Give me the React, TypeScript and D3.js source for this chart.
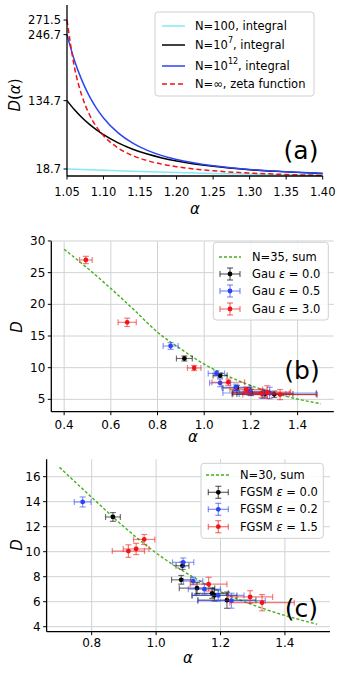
import React from 'react';
import * as d3 from 'd3';

const FONT = 'DejaVu Sans, Verdana, sans-serif';

// ---- panel (a) ----
const A_ALPHA = [1.05, 1.06, 1.07, 1.08, 1.09, 1.10, 1.12, 1.14, 1.16, 1.18, 1.20, 1.25, 1.30, 1.35, 1.40];
const A_N7 = [134.7, 119.5, 106.4, 95.2, 85.4, 76.9, 63.0, 52.3, 44.0, 37.5, 32.3, 23.2, 17.5, 13.8, 11.2];
const A_N12 = [246.7, 203.8, 170.3, 143.7, 122.5, 105.3, 80.0, 62.6, 50.3, 41.4, 34.7, 24.0, 17.8, 13.9, 11.25];
const A_ZETA = [271.5, 192.5, 144.4, 112.8, 91.0, 75.2, 54.3, 41.4, 32.9, 26.9, 22.6, 15.7, 11.8, 9.4, 7.7];
const A_N100_ALPHA = [1.05, 1.10, 1.15, 1.20, 1.25, 1.30, 1.35, 1.40];
const A_N100 = [18.7, 16.4, 14.4, 12.7, 11.2, 10.0, 8.9, 8.0];
const A_XTICKS = [1.05, 1.10, 1.15, 1.20, 1.25, 1.30, 1.35, 1.40];
const A_YTICKS = [18.7, 134.7, 246.7, 271.5];

// ---- panel (b) ----
const B_LINE_ALPHA = [0.4, 0.5, 0.6, 0.7, 0.8, 0.9, 1.0, 1.1, 1.2, 1.3, 1.4, 1.5];
const B_LINE_D = [28.7, 25.7, 22.5, 19.1, 15.6, 12.95, 10.55, 8.7, 7.17, 5.97, 5.04, 4.31];
const B_G0_ALPHA = [0.915, 1.068, 1.14, 1.2, 1.26, 1.3];
const B_G0_D = [11.45, 8.75, 6.8, 6.1, 5.85, 5.8];
const B_G0_XERR = [0.034, 0.03, 0.06, 0.08, 0.12, 0.18];
const B_G0_YERR = [0.4, 0.35, 0.4, 0.5, 0.5, 0.5];
const B_G05_ALPHA = [0.856, 1.052, 1.068, 1.135, 1.195, 1.25, 1.28];
const B_G05_D = [13.42, 9.1, 7.6, 6.9, 6.25, 5.85, 6.0];
const B_G05_XERR = [0.032, 0.035, 0.045, 0.06, 0.07, 0.1, 0.2];
const B_G05_YERR = [0.53, 0.4, 0.6, 0.5, 0.6, 0.7, 0.9];
const B_G3_ALPHA = [0.493, 0.67, 0.957, 1.103, 1.18, 1.245, 1.27, 1.325];
const B_G3_D = [27.0, 17.16, 9.95, 7.7, 6.55, 5.95, 6.15, 5.75];
const B_G3_XERR = [0.027, 0.039, 0.029, 0.07, 0.07, 0.12, 0.1, 0.16];
const B_G3_YERR = [0.58, 0.66, 0.4, 0.5, 0.4, 0.7, 1.0, 0.8];
const B_XTICKS = [0.4, 0.6, 0.8, 1.0, 1.2, 1.4];
const B_YTICKS = [5, 10, 15, 20, 25, 30];

// ---- panel (c) ----
const C_LINE_ALPHA = [0.7, 0.8, 0.9, 1.0, 1.1, 1.2, 1.3, 1.4, 1.5];
const C_LINE_D = [16.75, 14.35, 12.0, 9.9, 8.2, 6.8, 5.75, 4.9, 4.2];
const C_F0_ALPHA = [0.866, 1.082, 1.078, 1.127, 1.174, 1.181, 1.22];
const C_F0_D = [12.78, 8.88, 7.75, 7.08, 6.67, 6.5, 6.12];
const C_F0_XERR = [0.023, 0.02, 0.03, 0.055, 0.05, 0.07, 0.09];
const C_F0_YERR = [0.35, 0.3, 0.35, 0.45, 0.4, 0.45, 0.65];
const C_F02_ALPHA = [0.772, 1.084, 1.115, 1.15, 1.193, 1.234];
const C_F02_D = [13.98, 9.15, 7.65, 7.0, 6.5, 6.08];
const C_F02_XERR = [0.026, 0.033, 0.03, 0.05, 0.08, 0.105];
const C_F02_YERR = [0.4, 0.35, 0.3, 0.4, 0.45, 0.6];
const C_F15_ALPHA = [0.914, 0.938, 0.963, 1.163, 1.292, 1.329];
const C_F15_D = [10.05, 10.22, 10.98, 7.4, 6.38, 5.92];
const C_F15_XERR = [0.05, 0.04, 0.033, 0.057, 0.07, 0.1];
const C_F15_YERR = [0.5, 0.45, 0.4, 0.55, 0.5, 0.65];
const C_XTICKS = [0.8, 1.0, 1.2, 1.4];
const C_YTICKS = [4, 6, 8, 10, 12, 14, 16];

const BLACK = '#000000';
const BLUE = '#2b45f5';
const RED = '#f01414';
const GREEN = '#45b01a';
const CYAN = '#86e8f6';

type Scale = d3.ScaleLinear<number, number>;

function Axes({ x, y, xticks, yticks, xfmt, yfmt, grid, xlabOff, font }: any) {
  const [x0, x1] = x.range();
  const [y0, y1] = y.range();
  return (
    <g fontFamily={FONT} fontSize={font}>
      {grid && (
        <g stroke="#cfd3d4" strokeWidth={1}>
          {xticks.map((t: number) => <line key={'gx' + t} x1={x(t)} x2={x(t)} y1={y0} y2={y1} />)}
          {yticks.map((t: number) => <line key={'gy' + t} x1={x0} x2={x1} y1={y(t)} y2={y(t)} />)}
        </g>
      )}
      {xticks.map((t: number) => (
        <g key={'xt' + t}>
          <line x1={x(t)} x2={x(t)} y1={y0} y2={y0 + 3.5} stroke="#000" />
          <text x={x(t)} y={y0 + xlabOff} textAnchor="middle">{xfmt(t)}</text>
        </g>
      ))}
      {yticks.map((t: number) => (
        <g key={'yt' + t}>
          <line x1={x0 - 3.5} x2={x0} y1={y(t)} y2={y(t)} stroke="#000" />
          <text x={x0 - 6} y={y(t)} textAnchor="end" dominantBaseline="central">{yfmt(t)}</text>
        </g>
      ))}
      <line x1={x0} x2={x0} y1={y0} y2={y1} stroke="#000" strokeWidth={1.3} />
      <line x1={x0} x2={x1} y1={y0} y2={y0} stroke="#000" strokeWidth={1.3} />
    </g>
  );
}

function ErrPoints({ xs, ys, xe, ye, x, y, color }: any) {
  return (
    <g>
      {xs.map((a: number, i: number) => {
        const cx = x(a), cy = y(ys[i]);
        const xl = x(a - xe[i]), xr = x(a + xe[i]);
        const yt = y(ys[i] + ye[i]), yb = y(ys[i] - ye[i]);
        return (
          <g key={i}>
            <g stroke={color} strokeOpacity={0.55} strokeWidth={1.2}>
              <line x1={xl} x2={xr} y1={cy} y2={cy} />
              <line x1={cx} x2={cx} y1={yt} y2={yb} />
              <line x1={xl} x2={xl} y1={cy - 3} y2={cy + 3} />
              <line x1={xr} x2={xr} y1={cy - 3} y2={cy + 3} />
              <line x1={cx - 3} x2={cx + 3} y1={yt} y2={yt} />
              <line x1={cx - 3} x2={cx + 3} y1={yb} y2={yb} />
            </g>
            <circle cx={cx} cy={cy} r={2.4} fill={color} />
          </g>
        );
      })}
    </g>
  );
}

function ErrHandle({ cx, cy, color }: any) {
  return (
    <g>
      <g stroke={color} strokeOpacity={0.6} strokeWidth={1.2}>
        <line x1={cx - 10} x2={cx + 10} y1={cy} y2={cy} />
        <line x1={cx} x2={cx} y1={cy - 6} y2={cy + 6} />
        <line x1={cx - 10} x2={cx - 10} y1={cy - 3} y2={cy + 3} />
        <line x1={cx + 10} x2={cx + 10} y1={cy - 3} y2={cy + 3} />
        <line x1={cx - 3} x2={cx + 3} y1={cy - 6} y2={cy - 6} />
        <line x1={cx - 3} x2={cx + 3} y1={cy + 6} y2={cy + 6} />
      </g>
      <circle cx={cx} cy={cy} r={2.4} fill={color} />
    </g>
  );
}

function PanelA() {
  const x: Scale = d3.scaleLinear().domain([1.05, 1.40]).range([67, 322.7]);
  const y: Scale = d3.scaleLinear().domain([6.8, 297]).range([176, 5]);
  const line = (xs: number[], ys: number[]) =>
    d3.line<number>().x((_, i) => x(xs[i])).y(d => y(d)).curve(d3.curveMonotoneX)(ys) || '';
  const lx = 162, lx2 = 185, tx = 195;
  return (
    <g>
      <path d={line(A_N100_ALPHA, A_N100)} fill="none" stroke={CYAN} strokeWidth={1.5} />
      <path d={line(A_ALPHA, A_N7)} fill="none" stroke={BLACK} strokeWidth={1.5} />
      <path d={line(A_ALPHA, A_N12)} fill="none" stroke={BLUE} strokeWidth={1.5} />
      <path d={line(A_ALPHA, A_ZETA)} fill="none" stroke={RED} strokeWidth={1.5} strokeDasharray="5,3" />
      <Axes x={x} y={y} xticks={A_XTICKS} yticks={A_YTICKS} xfmt={d3.format('.2f')} yfmt={d3.format('.1f')}
        grid={false} xlabOff={20} font={11.5} />
      <text x={195} y={214} fontFamily={FONT} fontSize={15} fontStyle="italic" textAnchor="middle">α</text>
      <text transform="translate(20,95) rotate(-90)" fontFamily={FONT} fontSize={15} textAnchor="middle">
        <tspan fontStyle="italic">D</tspan>(<tspan fontStyle="italic">α</tspan>)
      </text>
      <rect x={155} y={12} width={159} height={84} rx={3} fill="#fff" fillOpacity={0.85} stroke="#d0d0d0" />
      <g fontFamily={FONT} fontSize={11.5} dominantBaseline="central">
        <line x1={lx} x2={lx2} y1={26} y2={26} stroke={CYAN} strokeWidth={1.5} />
        <text x={tx} y={26}>N=100, integral</text>
        <line x1={lx} x2={lx2} y1={45} y2={45} stroke={BLACK} strokeWidth={1.5} />
        <text x={tx} y={45}>N=10<tspan dy={-5} fontSize={8}>7</tspan><tspan dy={5}>, integral</tspan></text>
        <line x1={lx} x2={lx2} y1={66} y2={66} stroke={BLUE} strokeWidth={1.5} />
        <text x={tx} y={66}>N=10<tspan dy={-5} fontSize={8}>12</tspan><tspan dy={5}>, integral</tspan></text>
        <line x1={lx} x2={lx2} y1={84} y2={84} stroke={RED} strokeWidth={1.5} strokeDasharray="5,3" />
        <text x={tx} y={84}>N=∞, zeta function</text>
      </g>
      <text x={301} y={159} fontFamily={FONT} fontSize={25} textAnchor="middle">(a)</text>
    </g>
  );
}

function PanelB() {
  const x: Scale = d3.scaleLinear().domain([0.345, 1.555]).range([51.3, 333.8]);
  const y: Scale = d3.scaleLinear().domain([3.05, 29.95]).range([411.7, 241.3]);
  const path = d3.line<number>().x((_, i) => x(B_LINE_ALPHA[i])).y(d => y(d)).curve(d3.curveMonotoneX)(B_LINE_D) || '';
  const rows = [257, 274, 291, 309];
  return (
    <g>
      <Axes x={x} y={y} xticks={B_XTICKS} yticks={B_YTICKS} xfmt={d3.format('.1f')} yfmt={d3.format('d')}
        grid={true} xlabOff={17} font={12} />
      <path d={path} fill="none" stroke={GREEN} strokeWidth={1.4} strokeDasharray="3,2" />
      <ErrPoints xs={B_G0_ALPHA} ys={B_G0_D} xe={B_G0_XERR} ye={B_G0_YERR} x={x} y={y} color={BLACK} />
      <ErrPoints xs={B_G05_ALPHA} ys={B_G05_D} xe={B_G05_XERR} ye={B_G05_YERR} x={x} y={y} color={BLUE} />
      <ErrPoints xs={B_G3_ALPHA} ys={B_G3_D} xe={B_G3_XERR} ye={B_G3_YERR} x={x} y={y} color={RED} />
      <text x={193} y={442} fontFamily={FONT} fontSize={15} fontStyle="italic" textAnchor="middle">α</text>
      <text transform="translate(21.5,327) rotate(-90)" fontFamily={FONT} fontSize={15} fontStyle="italic" textAnchor="middle">D</text>
      <rect x={213.3} y={242.3} width={115} height={77.7} rx={3} fill="#fff" fillOpacity={0.85} stroke="#d0d0d0" />
      <g fontFamily={FONT} fontSize={11.5} dominantBaseline="central">
        <line x1={219} x2={241} y1={rows[0]} y2={rows[0]} stroke={GREEN} strokeWidth={1.4} strokeDasharray="3,2" />
        <text x={252} y={rows[0]}>N=35, sum</text>
        <ErrHandle cx={230} cy={rows[1]} color={BLACK} />
        <text x={252} y={rows[1]}>{'Gau '}<tspan fontStyle="italic">ε</tspan>{' = 0.0'}</text>
        <ErrHandle cx={230} cy={rows[2]} color={BLUE} />
        <text x={252} y={rows[2]}>{'Gau '}<tspan fontStyle="italic">ε</tspan>{' = 0.5'}</text>
        <ErrHandle cx={230} cy={rows[3]} color={RED} />
        <text x={252} y={rows[3]}>{'Gau '}<tspan fontStyle="italic">ε</tspan>{' = 3.0'}</text>
      </g>
      <text x={302} y={378.5} fontFamily={FONT} fontSize={25} textAnchor="middle">(b)</text>
    </g>
  );
}

function PanelC() {
  const x: Scale = d3.scaleLinear().domain([0.66, 1.54]).range([46.6, 330]);
  const y: Scale = d3.scaleLinear().domain([3.6, 17.4]).range([631.7, 459.2]);
  const path = d3.line<number>().x((_, i) => x(C_LINE_ALPHA[i])).y(d => y(d)).curve(d3.curveMonotoneX)(C_LINE_D) || '';
  const rows = [475, 492.3, 509.3, 526.7];
  return (
    <g>
      <Axes x={x} y={y} xticks={C_XTICKS} yticks={C_YTICKS} xfmt={d3.format('.1f')} yfmt={d3.format('d')}
        grid={true} xlabOff={15} font={12} />
      <path d={path} fill="none" stroke={GREEN} strokeWidth={1.4} strokeDasharray="3,2" />
      <ErrPoints xs={C_F0_ALPHA} ys={C_F0_D} xe={C_F0_XERR} ye={C_F0_YERR} x={x} y={y} color={BLACK} />
      <ErrPoints xs={C_F02_ALPHA} ys={C_F02_D} xe={C_F02_XERR} ye={C_F02_YERR} x={x} y={y} color={BLUE} />
      <ErrPoints xs={C_F15_ALPHA} ys={C_F15_D} xe={C_F15_XERR} ye={C_F15_YERR} x={x} y={y} color={RED} />
      <text x={188} y={663} fontFamily={FONT} fontSize={15} fontStyle="italic" textAnchor="middle">α</text>
      <text transform="translate(21.5,545) rotate(-90)" fontFamily={FONT} fontSize={15} fontStyle="italic" textAnchor="middle">D</text>
      <rect x={201} y={463.3} width={122.3} height={75} rx={3} fill="#fff" fillOpacity={0.85} stroke="#d0d0d0" />
      <g fontFamily={FONT} fontSize={11.5} dominantBaseline="central">
        <line x1={206} x2={231} y1={rows[0]} y2={rows[0]} stroke={GREEN} strokeWidth={1.4} strokeDasharray="3,2" />
        <text x={240} y={rows[0]}>N=30, sum</text>
        <ErrHandle cx={218.3} cy={rows[1]} color={BLACK} />
        <text x={240} y={rows[1]}>{'FGSM '}<tspan fontStyle="italic">ε</tspan>{' = 0.0'}</text>
        <ErrHandle cx={218.3} cy={rows[2]} color={BLUE} />
        <text x={240} y={rows[2]}>{'FGSM '}<tspan fontStyle="italic">ε</tspan>{' = 0.2'}</text>
        <ErrHandle cx={218.3} cy={rows[3]} color={RED} />
        <text x={240} y={rows[3]}>{'FGSM '}<tspan fontStyle="italic">ε</tspan>{' = 1.5'}</text>
      </g>
      <text x={301.5} y={617} fontFamily={FONT} fontSize={25} textAnchor="middle">(c)</text>
    </g>
  );
}

export default function App() {
  return (
    <svg width={346} height={676} style={{ position: 'absolute', left: 0, top: 0, background: '#fff' }}>
      <rect width={346} height={676} fill="#fff" />
      <PanelA />
      <PanelB />
      <PanelC />
    </svg>
  );
}
